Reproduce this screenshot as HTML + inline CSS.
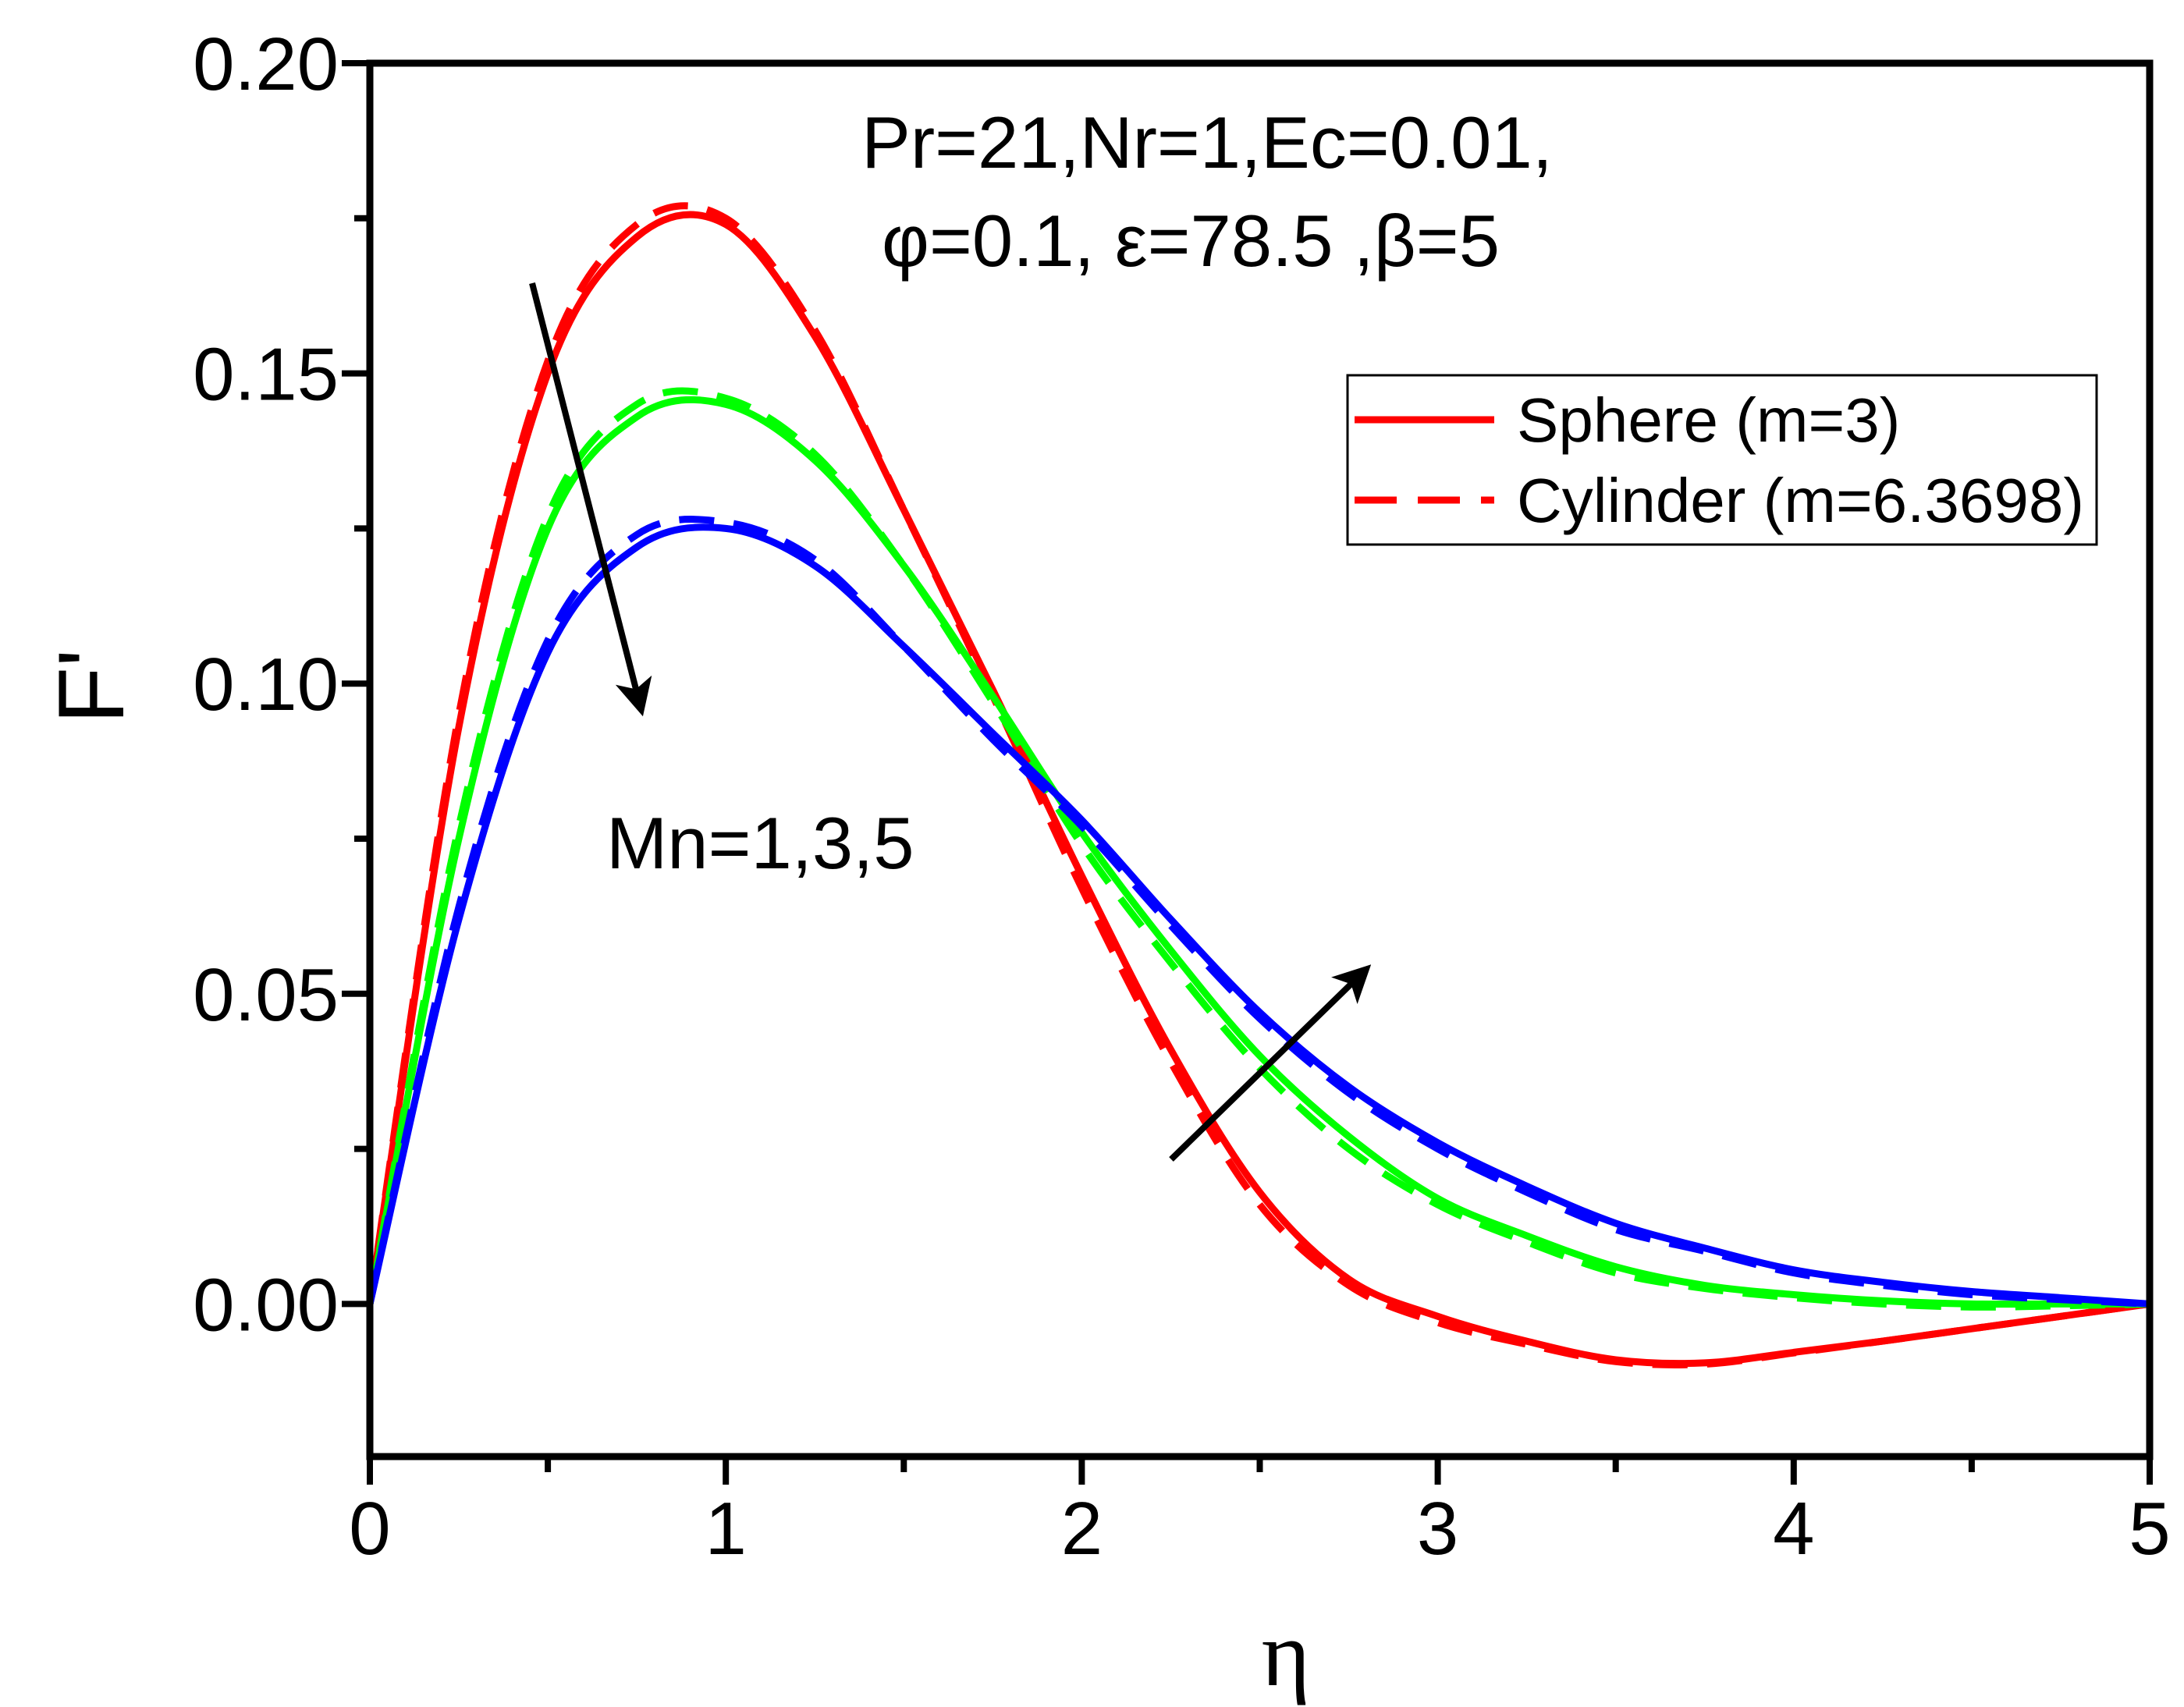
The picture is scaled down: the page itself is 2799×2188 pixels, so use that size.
<!DOCTYPE html>
<html><head><meta charset="utf-8"><style>html,body{margin:0;padding:0;background:#fff}svg{display:block}</style></head>
<body>
<svg id="chart" width="2799" height="2188" viewBox="0 0 2799 2188" xmlns="http://www.w3.org/2000/svg" font-family="'Liberation Sans', sans-serif">
<g id="plot"></g>
</svg>
<script>
const xs = [0, 0.25, 0.5, 0.75, 1, 1.25, 1.5, 1.75, 2, 2.25, 2.5, 2.75, 3, 3.25, 3.5, 3.75, 4, 4.25, 4.5, 4.75, 5];
const red = [0, 0.093, 0.150, 0.172, 0.174, 0.156, 0.128, 0.099, 0.069, 0.041, 0.018, 0.004, -0.002, -0.006, -0.009, -0.0095, -0.0078, -0.006, -0.004, -0.002, 0];
const redDash = [0, 0.095, 0.152, 0.174, 0.175, 0.157, 0.128, 0.098, 0.067, 0.039, 0.016, 0.003, -0.003, -0.0065, -0.0093, -0.0097, -0.0079, -0.006, -0.004, -0.002, 0];
const green = [0, 0.075, 0.125, 0.143, 0.145, 0.136, 0.119, 0.098, 0.076, 0.057, 0.040, 0.027, 0.017, 0.011, 0.006, 0.003, 0.0015, 0.0005, 0, 0, 0];
const greenDash = [0, 0.077, 0.127, 0.145, 0.146, 0.137, 0.119, 0.097, 0.074, 0.055, 0.038, 0.025, 0.016, 0.010, 0.005, 0.0025, 0.001, 0, -0.0005, -0.0003, 0];
const blue = [0, 0.062, 0.105, 0.122, 0.125, 0.119, 0.106, 0.092, 0.078, 0.062, 0.047, 0.035, 0.026, 0.019, 0.013, 0.009, 0.0055, 0.0035, 0.002, 0.001, 0];
const blueDash = [0, 0.064, 0.107, 0.124, 0.126, 0.120, 0.106, 0.091, 0.077, 0.061, 0.046, 0.034, 0.025, 0.018, 0.012, 0.0085, 0.005, 0.003, 0.0015, 0.0007, 0];
const xTicks = [0, 1, 2, 3, 4, 5];
const xTickLabels = ["0", "1", "2", "3", "4", "5"];
const yTicks = [0, 0.05, 0.10, 0.15, 0.20];
const yTickLabels = ["0.00", "0.05", "0.10", "0.15", "0.20"];

const L = 474, R = 2755, T = 81, B = 1867;
const xMin = 0, xMax = 5, yMin = -0.0246, yMax = 0.2;
const sx = v => L + (v - xMin) / (xMax - xMin) * (R - L);
const sy = v => B - (v - yMin) / (yMax - yMin) * (B - T);
const NS = "http://www.w3.org/2000/svg";
const g = document.getElementById('plot');
function mk(tag, attrs, parent) {
  const e = document.createElementNS(NS, tag);
  for (const k in attrs) e.setAttribute(k, attrs[k]);
  (parent || g).appendChild(e);
  return e;
}
function pathFor(ys) {
  const p = xs.map((x, i) => [sx(x), sy(ys[i])]);
  let d = `M${p[0][0]},${p[0][1]}`;
  for (let i = 0; i < p.length - 1; i++) {
    const p0 = p[i - 1] || p[i], p1 = p[i], p2 = p[i + 1], p3 = p[i + 2] || p2;
    const c1 = [p1[0] + (p2[0] - p0[0]) / 6, p1[1] + (p2[1] - p0[1]) / 6];
    const c2 = [p2[0] - (p3[0] - p1[0]) / 6, p2[1] - (p3[1] - p1[1]) / 6];
    d += ` C${c1[0]},${c1[1]} ${c2[0]},${c2[1]} ${p2[0]},${p2[1]}`;
  }
  return d;
}
const series = [
  [red, '#ff0000', false, 'sphere-mn1'], [redDash, '#ff0000', true, 'cylinder-mn1'],
  [green, '#00ff00', false, 'sphere-mn3'], [greenDash, '#00ff00', true, 'cylinder-mn3'],
  [blue, '#0000ff', false, 'sphere-mn5'], [blueDash, '#0000ff', true, 'cylinder-mn5']
];
series.forEach(s => {
  const a = {d: pathFor(s[0]), fill: 'none', stroke: s[1], 'stroke-width': 9};
  if (s[2]) a['stroke-dasharray'] = '45 25';
  const el = mk('path', a);
  
  
});
const frame = mk('rect', {x: L, y: T, width: R - L, height: B - T, fill: 'none', stroke: '#000', 'stroke-width': 9});


for (let v = 0; v <= 5.001; v += 0.5) {
  const major = Math.abs(v - Math.round(v)) < 1e-6;
  const t = mk('line', {x1: sx(v), x2: sx(v), y1: B, y2: B + (major ? 36 : 20), stroke: '#000', 'stroke-width': 8});
  
  
}
xTicks.forEach((v, i) => {
  const t = mk('text', {x: sx(v), y: 1992, 'text-anchor': 'middle', 'font-size': 96});
  t.textContent = xTickLabels[i];
  
  
});
for (let v = -0.025; v <= 0.2001; v += 0.025) {
  const major = Math.abs(v / 0.05 - Math.round(v / 0.05)) < 1e-6;
  if (v < yMin) continue;
  const t = mk('line', {x1: L, x2: L - (major ? 36 : 20), y1: sy(v), y2: sy(v), stroke: '#000', 'stroke-width': 8});
  
  
}
yTicks.forEach((v, i) => {
  const t = mk('text', {x: 434, y: sy(v) + 34, 'text-anchor': 'end', 'font-size': 96});
  t.textContent = yTickLabels[i];
  
  
});
</script>
<svg style="position:absolute;left:0;top:0" width="2799" height="2188" xmlns="http://www.w3.org/2000/svg" font-family="'Liberation Sans', sans-serif">
<defs><marker id="ah" markerWidth="6" markerHeight="6" refX="3" refY="3" orient="auto" markerUnits="strokeWidth"><path d="M0,0 L6,3 L0,6 L1.5,3 Z" fill="#000"/></marker></defs>
<text x="1648" y="2160" font-family="'Liberation Serif', serif" font-size="120" text-anchor="middle">η</text>
<text transform="translate(158,880) rotate(-90)" font-size="120" text-anchor="middle">F'</text>
<text x="1547" y="215" font-size="94" text-anchor="middle">Pr=21,Nr=1,Ec=0.01,</text>
<text x="1526" y="341" font-size="94" text-anchor="middle">φ=0.1, ε=78.5 ,β=5</text>
<text x="777" y="1113" font-size="94">Mn=1,3,5</text>
<line x1="682" y1="363" x2="818" y2="895" stroke="#000" stroke-width="8" marker-end="url(#ah)"/>
<line x1="1501" y1="1486" x2="1740" y2="1253" stroke="#000" stroke-width="8" marker-end="url(#ah)"/>
<g>
<rect x="1727" y="481" width="960" height="217" fill="#fff" stroke="#000" stroke-width="3"/>
<line x1="1736" x2="1915" y1="538" y2="538" stroke="#ff0000" stroke-width="9"/>
<text x="1944" y="566" font-size="80">Sphere (m=3)</text>
<line x1="1736" x2="1915" y1="641" y2="641" stroke="#ff0000" stroke-width="9" stroke-dasharray="54 27"/>
<text x="1944" y="669" font-size="80">Cylinder (m=6.3698)</text>
</g>
</svg>
</body></html>
